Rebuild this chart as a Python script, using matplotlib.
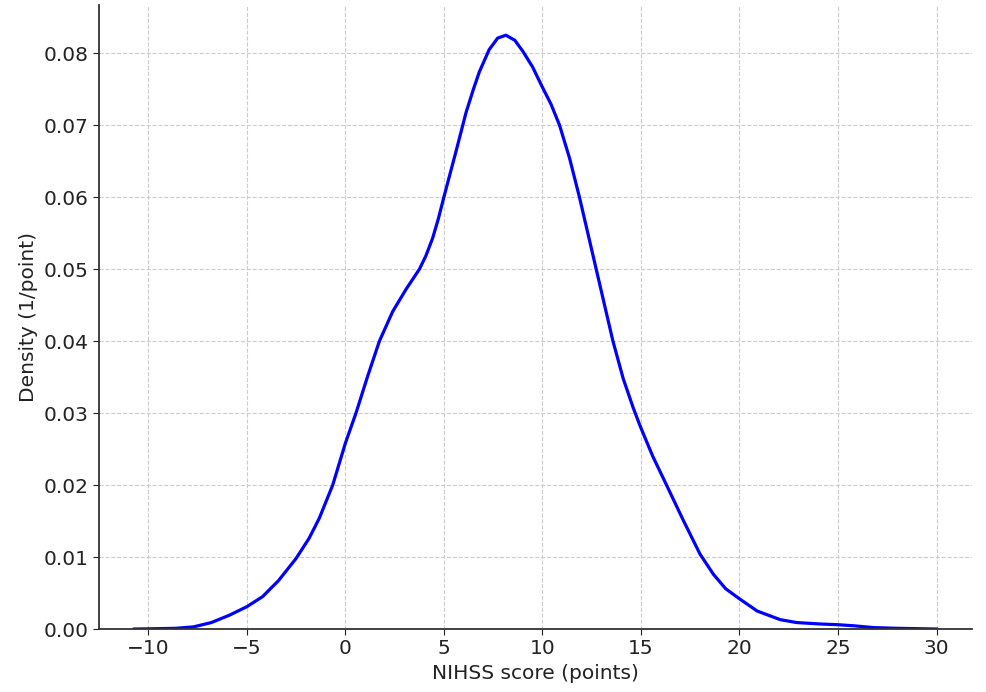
import matplotlib
matplotlib.use("Agg")
from matplotlib import pyplot as plt

# density curve
score = [-10.7, -9.5, -8.6, -7.7, -6.8, -5.9, -5.0, -4.2, -3.4, -2.5, -1.84,
         -1.32, -0.64, 0.0, 0.54, 1.13, 1.73, 2.4, 3.08, 3.76, 4.08, 4.43,
         4.72, 5.0, 5.62, 6.13, 6.5, 6.8, 7.3, 7.73, 8.15, 8.6, 9.0, 9.5, 9.96,
         10.44, 10.87, 11.38, 11.88, 12.73, 13.58, 14.1, 14.6, 14.96, 15.6,
         16.3, 17.15, 18.0, 18.68, 19.3, 20.0, 20.9, 22.07, 22.9, 24.1, 25.0,
         25.8, 26.8, 28.0, 30.0]
density = [0.0, 0.00005, 0.0001, 0.0003, 0.0009, 0.0019, 0.0031, 0.0045,
           0.0067, 0.0098, 0.0126, 0.0154, 0.0200, 0.0258, 0.0300, 0.0351,
           0.0400, 0.0441, 0.0472, 0.0500, 0.0518, 0.0543, 0.0570, 0.0600,
           0.0664, 0.0718, 0.0750, 0.0774, 0.0805, 0.0821, 0.0825, 0.0818,
           0.0803, 0.0781, 0.0755, 0.0729, 0.0700, 0.0654, 0.0600, 0.0500,
           0.0400, 0.0348, 0.0308, 0.0282, 0.0240, 0.0200, 0.0151, 0.0104,
           0.0076, 0.0056, 0.0042, 0.0025, 0.0013, 0.0009, 0.0007, 0.0006,
           0.00045, 0.0002, 0.0001, 0.0]

fig = plt.figure(figsize=(9.86, 6.92), dpi=100)
ax = fig.add_axes([0.1004, 0.091, 0.8854, 0.9018])

ax.plot(score, density, color="blue", linewidth=2.3, solid_joinstyle="round")

ax.set_xlim(-12.5, 31.8)
ax.set_ylim(0, 0.0867)
ax.set_xticks(range(-10, 31, 5))
ax.set_yticks([i / 100 for i in range(9)])
ax.set_yticklabels([f"{i / 100:.2f}" for i in range(9)])

ax.grid(True, linestyle="--", color="#cccccc", linewidth=0.8)
ax.set_axisbelow(True)
for side in ["top", "right"]:
    ax.spines[side].set_visible(False)
for side in ["left", "bottom"]:
    ax.spines[side].set_color("#333333")
    ax.spines[side].set_linewidth(1.3)

ax.tick_params(labelsize=14.5, colors="#222222", length=4)
ax.set_xlabel("NIHSS score (points)", fontsize=14.5, color="#222222")
ax.set_ylabel("Density (1/point)", fontsize=14.5, color="#222222")

fig.savefig("out.png", dpi=100)
